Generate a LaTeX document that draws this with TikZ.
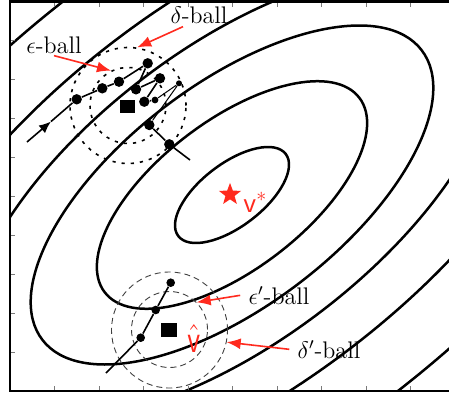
\documentclass[tikz,border=0pt]{standalone}
\usepackage{amsmath}
\usepackage{graphicx}
\usepackage{xcolor}
\usetikzlibrary{arrows.meta,positioning,shapes.geometric}
\definecolor{rojo}{HTML}{FF2A1E}
\definecolor{gris}{HTML}{7A7A7A}

\begin{document}
\begin{tikzpicture}[x=0.5pt, y=-0.5pt,
      contorno/.style={line width=1.25pt},
      marco/.style={line width=1.1pt},
      marca/.style={draw=gris, line width=0.5pt},
      punto/.style={circle, fill, inner sep=0pt, minimum size=5.2pt},
      puntito/.style={punto, minimum size=3.4pt},
      cuadro/.style={rectangle, fill, inner sep=0pt, minimum width=7.8pt, minimum height=6.8pt},
      bolasup/.style={circle, draw, inner sep=0pt, line width=0.8pt, dash pattern=on 1.6pt off 3pt},
      bolainf/.style={circle, draw=black!75, inner sep=0pt, line width=0.45pt, dash pattern=on 3pt off 2pt},
      tray/.style={line width=0.8pt},
      trayfina/.style={line width=0.5pt},
      etiq/.style={font=\large, inner sep=1pt, anchor=base},
      flecha/.style={-{Latex[length=7pt, width=5.5pt]}, draw=rojo, line width=0.8pt}]

    \useasboundingbox (0,0) rectangle (449,396);

    % curvas de nivel
    \begin{scope}
      \clip (10,1.5) rectangle (449,391);
      \foreach \s in {1,2.37,3.53,4.67,6.17,8.17}
        \draw[contorno, rotate around={37.35:(232,195)}] (232,195)
          ellipse [x radius={67.6*\s}, y radius={31.4*\s}];
    \end{scope}

    % ejes
    \foreach \k in {1,...,9} {
      \draw[marca] ({10+44.5*\k},1.5) -- ++(0,5);
      \draw[marca] ({10+44.5*\k},391) -- ++(0,-5);
      \draw[marca] (10,{1.5+39*\k}) -- ++(5,0);
    }
    \draw[marco] (449,1.5) -- (10,1.5) -- (10,391) -- (449,391);

    % bolas de arriba
    \node[cuadro] (m1) at (127.5,106.5) {};
    \node[bolasup, minimum size=38pt] (eps) at (128,105.5) {};
    \node[bolasup, minimum size=58pt] (del) at (128,105.5) {};

    \coordinate (t0) at (27,142);
    \coordinate (t1) at (51,121.5);
    \coordinate (t2) at (190,160);
    \node[punto] (p1) at (76.7,99.3) {};
    \node[punto] (p2) at (102.3,88.3) {};
    \node[punto] (p3) at (119,81.7) {};
    \node[punto] (p4) at (136,89.3) {};
    \node[punto] (p5) at (147.7,63.3) {};
    \node[punto] (p6) at (160,78.3) {};
    \node[punto] (p7) at (144.3,101.7) {};
    \node[puntito] (p8) at (155,100) {};
    \node[puntito, minimum size=3pt] (p9) at (179,83.3) {};
    \node[punto] (p10) at (149.3,125) {};
    \node[punto] (p11) at (169.3,144.3) {};

    \draw[tray, -{Latex[length=6pt, width=5pt]}] (t0) -- (t1);
    \draw[tray] (t1) -- (p1) -- (p2) -- (p3) -- (p5) -- (p4) -- (p6) -- (p7) -- (p8);
    \draw[trayfina] (p8) -- (p9) -- (p10);
    \draw[tray] (p10) -- (p11) -- (t2);

    % bolas de abajo
    \node[cuadro] (m2) at (169,330) {};
    \node[bolainf, minimum size=38pt] (epsp) at (169.5,329.5) {};
    \node[bolainf, minimum size=58pt] (delp) at (169.5,330) {};

    \coordinate (q0) at (106,373);
    \node[punto, minimum size=4.3pt] (q1) at (140.7,337.7) {};
    \node[punto, minimum size=4.3pt] (q2) at (155.7,310) {};
    \node[punto, minimum size=4.3pt] (q3) at (170.7,282.7) {};
    \draw[tray] (q0) -- (q1) -- (q2) -- (q3);

    % optimo y estimacion
    \node[star, star points=5, star point ratio=2.4, fill=rojo, inner sep=0pt,
          minimum size=11.6pt] (vopt) at (230,194.5) {};
    \node[text=rojo, font=\Large\sffamily, inner sep=0pt, anchor=base west] (vlab)
      at (243,212) {v$^{*}$};
    \node[text=rojo, font=\Large, inner sep=0pt, anchor=base] (vhat)
      at (194,352) {\scalebox{1}[1.35]{$\hat{\mathsf{v}}$}};

    % etiquetas
    \node[etiq] (le) at (54,53) {$\epsilon$-ball};
    \node[etiq] (ld) at (199,24) {$\delta$-ball};
    \node[etiq] (lep) at (279,304) {$\epsilon'$-ball};
    \node[etiq] (ldp) at (329,358) {$\delta'$-ball};

    \draw[flecha] (le.south) -- (eps.116);
    \draw[flecha] ([xshift=-8pt]ld.south) -- (del.81);
    \draw[flecha] ([xshift=-3pt]lep.west) -- (epsp.45);
    \draw[flecha] ([xshift=-3pt]ldp.west) -- (delp.348);
  \end{tikzpicture}
\end{document}
